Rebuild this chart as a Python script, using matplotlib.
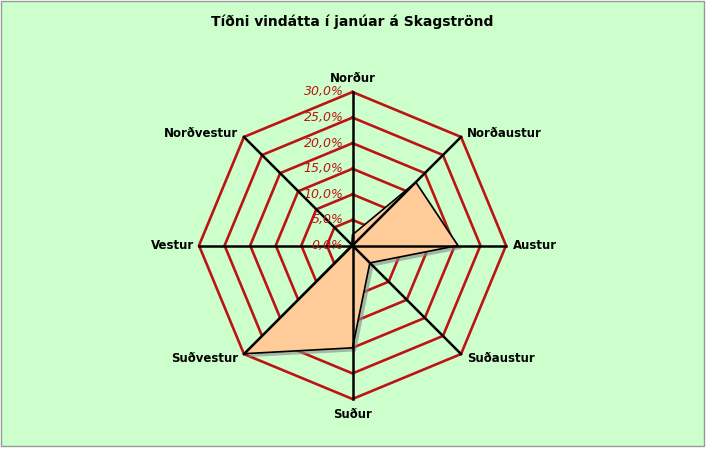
import numpy as np
import matplotlib
matplotlib.use("Agg")
import matplotlib.pyplot as plt
import matplotlib.patheffects as pe
from matplotlib.patches import Rectangle

# ---------------- data ----------------
directions = ["Norður", "Norðaustur", "Austur", "Suðaustur",
              "Suður", "Suðvestur", "Vestur", "Norðvestur"]
freq_pct = [2.1, 17.5, 20.6, 4.8, 20.0, 29.9, 0.2, 0.2]
ring_vals = [0, 5, 10, 15, 20, 25, 30]
ring_labels = ["0,0%", "5,0%", "10,0%", "15,0%", "20,0%", "25,0%", "30,0%"]

# ---------------- layout (pixels) ----------------
W, H = 707, 449
cx, cy = 352.5, 245.5      # centre of the radar, from the top-left
px_per_pct = 153.5 / 30.0

bg = "#CCFFCC"
ring_col = "#BC1414"
fill_col = "#FFCC99"

fig = plt.figure(figsize=(W / 100, H / 100), dpi=100)
fig.patch.set_facecolor("white")
ax = fig.add_axes([0, 0, 1, 1])
ax.set_xlim(-cx / px_per_pct, (W - cx) / px_per_pct)
ax.set_ylim(-(H - cy) / px_per_pct, cy / px_per_pct)
ax.axis("off")

# green chart area with thin grey border
k = px_per_pct
ax.add_patch(Rectangle(((0.5 - cx) / k, -(445.5 - cy) / k),
                       703.5 / k, 444.5 / k,
                       facecolor=bg, edgecolor="#999999", lw=1, zorder=0))

n = len(directions)
theta = np.arange(n) * 2 * np.pi / n
sx, sy = np.sin(theta), np.cos(theta)

# octagonal rings
for r in ring_vals[1:]:
    xs = np.append(r * sx, r * sx[0])
    ys = np.append(r * sy, r * sy[0])
    ax.plot(xs, ys, color=ring_col, lw=1.9, zorder=1, solid_joinstyle="miter")

# data polygon with shadow
vals = np.array(freq_pct)
ax.fill(vals * sx, vals * sy, facecolor=fill_col, edgecolor="black", lw=1.2,
        zorder=2,
        path_effects=[pe.SimplePatchShadow(offset=(2.5, -2.5),
                                           shadow_rgbFace="#888888", alpha=0.6),
                      pe.Normal()])

# spokes
rmax = ring_vals[-1]
for i in range(n):
    ax.plot([0, rmax * sx[i]], [0, rmax * sy[i]], color="black", lw=1.8,
            zorder=3)

# ring labels
for r, lab in zip(ring_vals, ring_labels):
    ax.text(-9 / k, r, lab, ha="right", va="center", fontsize=9,
            style="italic", color=ring_col, zorder=4)

# direction labels (pixel offsets from the outer vertex)
lab_off = {
    "Norður": (0, 13, "center"),
    "Norðaustur": (6, 3, "left"),
    "Austur": (7, 0, "left"),
    "Suðaustur": (6, -4, "left"),
    "Suður": (0, -16, "center"),
    "Suðvestur": (-6, -4, "right"),
    "Vestur": (-5, 0, "right"),
    "Norðvestur": (-6, 3, "right"),
}
for i, name in enumerate(directions):
    dx, dy, ha = lab_off[name]
    ax.text(rmax * sx[i] + dx / k, rmax * sy[i] + dy / k, name,
            ha=ha, va="center", fontsize=8.5, fontweight="bold",
            color="black", zorder=4)

ax.text(0, (cy - 22) / k, "Tíðni vindátta í janúar á Skagströnd",
        ha="center", va="center", fontsize=10, fontweight="bold")

fig.savefig("out.png", dpi=100, facecolor=fig.get_facecolor())
